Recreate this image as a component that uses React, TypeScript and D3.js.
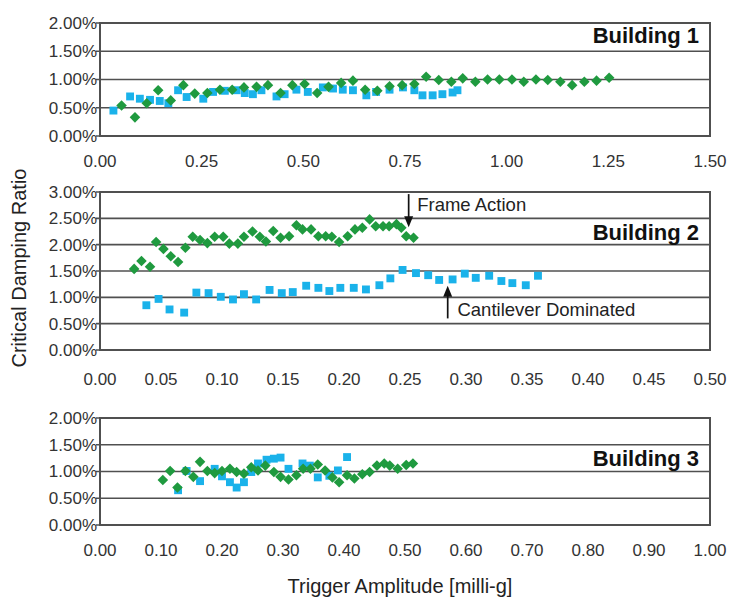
import React from "react";
import * as d3 from "d3";

// ---------- data (x = trigger amplitude [milli-g], y = critical damping ratio [%]) ----------
const B1_GREEN: [number, number][] = [
  [0.053, 0.54], [0.086, 0.33], [0.115, 0.58], [0.143, 0.81], [0.174, 0.63], [0.205, 0.9],
  [0.233, 0.75], [0.264, 0.76], [0.295, 0.82], [0.325, 0.82], [0.354, 0.86], [0.385, 0.87],
  [0.413, 0.9], [0.444, 0.76], [0.473, 0.9], [0.503, 0.92], [0.534, 0.76], [0.562, 0.87],
  [0.593, 0.94], [0.622, 0.98], [0.652, 0.82], [0.682, 0.8], [0.712, 0.88], [0.743, 0.9],
  [0.773, 0.92], [0.802, 1.05], [0.833, 0.99], [0.864, 0.96], [0.892, 1.02], [0.923, 0.96],
  [0.953, 1.0], [0.982, 1.0], [1.013, 1.0], [1.042, 0.96], [1.072, 1.0], [1.101, 0.99],
  [1.132, 0.96], [1.161, 0.9], [1.191, 0.96], [1.221, 0.98], [1.252, 1.03],
];
const B1_BLUE: [number, number][] = [
  [0.033, 0.45], [0.074, 0.7], [0.098, 0.66], [0.123, 0.64], [0.147, 0.62], [0.168, 0.58],
  [0.192, 0.81], [0.213, 0.69], [0.254, 0.66], [0.278, 0.78], [0.307, 0.8], [0.336, 0.81],
  [0.356, 0.76], [0.376, 0.74], [0.397, 0.81], [0.434, 0.7], [0.454, 0.74], [0.483, 0.82],
  [0.511, 0.78], [0.548, 0.86], [0.573, 0.84], [0.597, 0.82], [0.622, 0.81], [0.655, 0.72],
  [0.679, 0.78], [0.712, 0.82], [0.745, 0.86], [0.773, 0.81], [0.793, 0.72], [0.818, 0.72],
  [0.842, 0.74], [0.867, 0.77], [0.879, 0.81],
];
const B2_GREEN: [number, number][] = [
  [0.028, 1.54], [0.034, 1.69], [0.041, 1.58], [0.046, 2.05], [0.052, 1.92], [0.058, 1.78],
  [0.064, 1.67], [0.07, 1.94], [0.076, 2.15], [0.082, 2.09], [0.088, 2.03], [0.094, 2.15],
  [0.101, 2.15], [0.106, 2.02], [0.113, 2.02], [0.118, 2.15], [0.125, 2.25], [0.131, 2.15],
  [0.136, 2.06], [0.142, 2.26], [0.148, 2.13], [0.155, 2.16], [0.161, 2.37], [0.166, 2.29],
  [0.173, 2.29], [0.179, 2.16], [0.185, 2.16], [0.19, 2.15], [0.196, 2.05], [0.203, 2.16],
  [0.209, 2.29], [0.215, 2.32], [0.221, 2.48], [0.226, 2.35], [0.232, 2.35], [0.237, 2.35],
  [0.243, 2.39], [0.247, 2.32], [0.251, 2.16], [0.257, 2.13],
];
const B2_BLUE: [number, number][] = [
  [0.038, 0.85], [0.048, 0.97], [0.057, 0.77], [0.069, 0.71], [0.079, 1.09], [0.089, 1.08],
  [0.099, 1.01], [0.109, 0.96], [0.118, 1.06], [0.128, 0.96], [0.139, 1.14], [0.149, 1.08],
  [0.158, 1.1], [0.169, 1.22], [0.179, 1.18], [0.188, 1.12], [0.197, 1.18], [0.208, 1.18],
  [0.218, 1.15], [0.229, 1.23], [0.238, 1.36], [0.248, 1.52], [0.259, 1.46], [0.269, 1.42],
  [0.278, 1.33], [0.289, 1.34], [0.299, 1.45], [0.308, 1.37], [0.319, 1.41], [0.329, 1.31],
  [0.338, 1.27], [0.349, 1.23], [0.359, 1.41],
];
const B3_GREEN: [number, number][] = [
  [0.103, 0.84], [0.115, 1.01], [0.127, 0.7], [0.14, 1.01], [0.153, 0.9], [0.164, 1.18],
  [0.176, 1.01], [0.188, 0.97], [0.2, 1.01], [0.213, 1.05], [0.224, 0.99], [0.236, 0.96],
  [0.248, 1.08], [0.259, 1.02], [0.271, 1.11], [0.285, 0.99], [0.296, 0.9], [0.309, 0.85],
  [0.322, 0.93], [0.333, 1.05], [0.345, 1.05], [0.357, 1.13], [0.369, 1.02], [0.381, 0.89],
  [0.392, 0.8], [0.405, 0.93], [0.417, 0.87], [0.43, 0.95], [0.442, 0.99], [0.454, 1.11],
  [0.466, 1.15], [0.475, 1.11], [0.488, 1.05], [0.502, 1.12], [0.513, 1.15],
];
const B3_BLUE: [number, number][] = [
  [0.128, 0.65], [0.142, 1.01], [0.164, 0.82], [0.188, 1.05], [0.2, 0.91], [0.213, 0.8],
  [0.224, 0.7], [0.236, 0.8], [0.248, 0.99], [0.259, 1.15], [0.273, 1.22], [0.285, 1.24],
  [0.296, 1.26], [0.309, 1.05], [0.332, 1.15], [0.344, 1.11], [0.357, 0.89], [0.376, 0.92],
  [0.39, 1.02], [0.405, 1.27],
];

const X_TICKS_1 = [0, 0.25, 0.5, 0.75, 1.0, 1.25, 1.5];
const X_TICKS_2 = [0, 0.05, 0.1, 0.15, 0.2, 0.25, 0.3, 0.35, 0.4, 0.45, 0.5];
const X_TICKS_3 = [0, 0.1, 0.2, 0.3, 0.4, 0.5, 0.6, 0.7, 0.8, 0.9, 1.0];
const Y_TICKS_1 = [0, 0.5, 1.0, 1.5, 2.0];
const Y_TICKS_2 = [0, 0.5, 1.0, 1.5, 2.0, 2.5, 3.0];
const Y_TICKS_3 = [0, 0.5, 1.0, 1.5, 2.0];
const PANEL_TITLES = ["Building 1", "Building 2", "Building 3"];

// annotation: [label, arrowX, arrowFromY, arrowToY, textX, textY]
const ANNOTATIONS: [string, number, number, number, number, number][] = [
  ["Frame Action", 0.253, 2.96, 2.33, 0.26, 2.77],
  ["Cantilever Dominated", 0.285, 0.6, 1.22, 0.293, 0.77],
];

// ---------- layout / style ----------
const W = 731;
const H = 603;
const LEFT = 100;
const RIGHT = 710;
const FONT = "'Liberation Sans', Arial, Helvetica, sans-serif";
const GREEN = "#1f9a3f";
const BLUE = "#1ab2ea";
const GRID = "#505050";
const TEXT = "#333";

type PanelCfg = {
  title: string;
  xTicks: number[];
  yTicks: number[];
  top: number;
  bottom: number;
  labelY: number;
  titleLevel: number;
  green: [number, number][];
  blue: [number, number][];
  annotations?: typeof ANNOTATIONS;
};

const PANELS: PanelCfg[] = [
  { title: PANEL_TITLES[0], xTicks: X_TICKS_1, yTicks: Y_TICKS_1, top: 23, bottom: 136, labelY: 161, titleLevel: 1.78, green: B1_GREEN, blue: B1_BLUE },
  { title: PANEL_TITLES[1], xTicks: X_TICKS_2, yTicks: Y_TICKS_2, top: 192, bottom: 350, labelY: 379, titleLevel: 2.24, green: B2_GREEN, blue: B2_BLUE, annotations: ANNOTATIONS },
  { title: PANEL_TITLES[2], xTicks: X_TICKS_3, yTicks: Y_TICKS_3, top: 418, bottom: 525, labelY: 550, titleLevel: 1.26, green: B3_GREEN, blue: B3_BLUE },
];

const squarePath = d3.symbol(d3.symbolSquare, 62)() as string;
const diamondPath = d3.symbol(d3.symbolSquare, 56)() as string;

function Panel({ cfg }: { cfg: PanelCfg }) {
  const xMax = cfg.xTicks[cfg.xTicks.length - 1];
  const yMax = cfg.yTicks[cfg.yTicks.length - 1];
  const x = d3.scaleLinear().domain([0, xMax]).range([LEFT, RIGHT]);
  const y = d3.scaleLinear().domain([0, yMax]).range([cfg.bottom, cfg.top]);
  const fx = d3.format(".2f");
  return (
    <g>
      {cfg.yTicks.map((t) => (
        <g key={"y" + t}>
          <line x1={LEFT - 4} x2={RIGHT} y1={y(t)} y2={y(t)} stroke={GRID} strokeWidth={1.7} />
          <text x={LEFT - 3} y={y(t)} dy="0.35em" textAnchor="end" fontSize={17} fill={TEXT} fontFamily={FONT}>
            {fx(t) + "%"}
          </text>
        </g>
      ))}
      {cfg.xTicks.map((t) => (
        <text key={"x" + t} x={x(t)} y={cfg.labelY} dy="0.35em" textAnchor="middle" fontSize={17} fill={TEXT} fontFamily={FONT}>
          {fx(t)}
        </text>
      ))}
      <rect x={LEFT} y={cfg.top} width={RIGHT - LEFT} height={cfg.bottom - cfg.top} fill="none" stroke={GRID} strokeWidth={2} />
      {cfg.blue.map((d, i) => (
        <path key={"b" + i} d={squarePath} transform={`translate(${x(d[0])},${y(d[1])})`} fill={BLUE} />
      ))}
      {cfg.green.map((d, i) => (
        <path key={"g" + i} d={diamondPath} transform={`translate(${x(d[0])},${y(d[1])}) rotate(45)`} fill={GREEN} />
      ))}
      <text x={RIGHT - 11} y={y(cfg.titleLevel)} dy="0.36em" textAnchor="end" fontSize={22} fontWeight="bold" fill="#111" fontFamily={FONT}>
        {cfg.title}
      </text>
      {(cfg.annotations || []).map((a) => {
        const ax = x(a[1]);
        const y0 = y(a[2]);
        const y1 = y(a[3]);
        const dir = y1 > y0 ? 1 : -1;
        return (
          <g key={a[0]}>
            <line x1={ax} x2={ax} y1={y0} y2={y1 - dir * 8} stroke="#111" strokeWidth={1.7} />
            <path d={`M${ax - 4.5},${y1 - dir * 11} L${ax + 4.5},${y1 - dir * 11} L${ax},${y1} Z`} fill="#111" />
            <text x={x(a[4])} y={y(a[5])} dy="0.35em" fontSize={18.5} fill="#222" fontFamily={FONT}>
              {a[0]}
            </text>
          </g>
        );
      })}
    </g>
  );
}

export default function App() {
  return (
    <svg width={W} height={H} style={{ position: "absolute", left: 0, top: 0, background: "#fff" }}>
      <rect width={W} height={H} fill="#fff" />
      {PANELS.map((p) => (
        <Panel key={p.title} cfg={p} />
      ))}
      <text
        transform={`translate(19,${268}) rotate(-90)`}
        textAnchor="middle"
        dy="0.35em"
        fontSize={20}
        fill="#222"
        fontFamily={FONT}
      >
        Critical Damping Ratio
      </text>
      <text x={400} y={586} dy="0.35em" textAnchor="middle" fontSize={20} fill="#222" fontFamily={FONT}>
        Trigger Amplitude [milli-g]
      </text>
    </svg>
  );
}
